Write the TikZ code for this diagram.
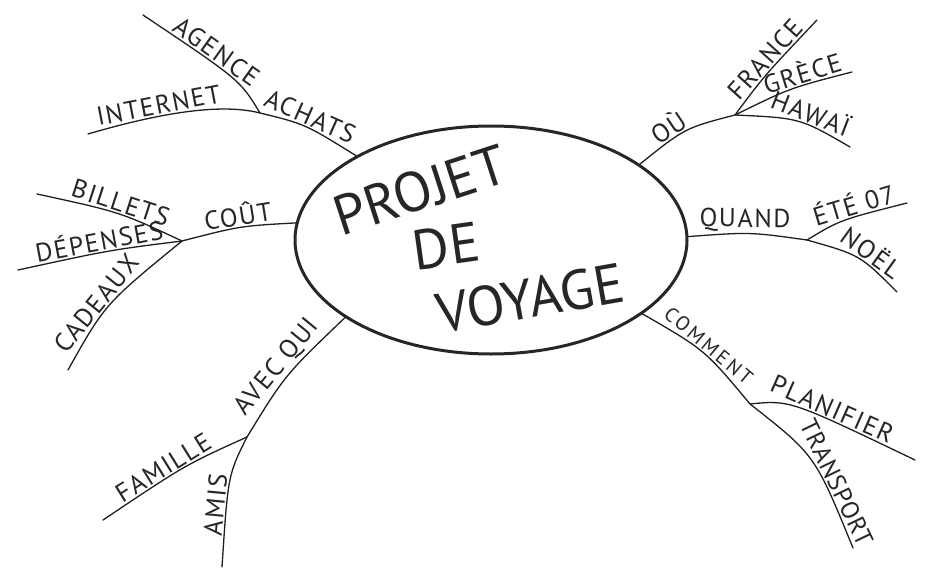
\documentclass[tikz,border=0pt]{standalone}
\usepackage{fontspec}
\setmainfont{PT Sans}
\usetikzlibrary{shapes.geometric}

\begin{document}
\begin{tikzpicture}[x=1pt, y=-1pt,
  branch/.style={line width=1.3pt, line cap=round, draw=black!88},
  word/.style={inner sep=1pt, text=black!85, sloped, above, font=\fontsize{26}{26}\selectfont\addfontfeature{LetterSpace=6}},
  small/.style={word, font=\fontsize{20}{20}\selectfont\addfontfeature{LetterSpace=14}},
  big/.style={inner sep=1pt, text=black!85, font=\fontsize{56}{56}\selectfont}
]
  \useasboundingbox (0,0) rectangle (936,567);

  % centre
  \node[ellipse, draw=black!85, line width=3pt, minimum width=392pt, minimum height=228pt] (projet) at (491,240) {};
  \node[big, rotate=18] (mot1) at (420,190) {PROJET};
  \node[big, rotate=8] (mot2) at (446,246) {DE};
  \node[big, rotate=10] (mot3) at (530,298) {VOYAGE};

  % fourches
  \coordinate (fAchats) at (260,113);
  \coordinate (fCout) at (182,241);
  \coordinate (fAvec) at (247,437);
  \coordinate (fOu) at (735,115);
  \coordinate (fQuand) at (807,240);
  \coordinate (fComment) at (750,404);

  % gauche
  \draw[branch] (projet.148) .. controls (305,124) .. node[word, pos=.5] (achats) {ACHATS} (fAchats);
  \draw[branch] (fAchats) .. controls (240,80) .. node[word, pos=.68] (agence) {AGENCE} (143,15);
  \draw[branch] (fAchats) .. controls (225,104) and (170,110) .. node[word, pos=.67] (internet) {INTERNET} (88,134);
  \draw[branch] (projet.175) .. controls (240,226) .. node[word, pos=.5] (cout) {COÛT} (fCout);
  \draw[branch] (fCout) .. controls (120,212) .. node[word, pos=.5] (billets) {BILLETS} (37,194);
  \draw[branch] (fCout) .. controls (110,250) .. node[word, pos=.55] (depenses) {DÉPENSES} (18,270);
  \draw[branch] (fCout) .. controls (105,304) .. node[word, pos=.56] (cadeaux) {CADEAUX} (68,370);
  \draw[branch] (projet.208) .. controls (285,375) .. node[word, pos=.5] (avec) {AVEC QUI} (fAvec);
  \draw[branch] (fAvec) .. controls (185,465) .. node[word, pos=.62] (famille) {FAMILLE} (103,520);
  \draw[branch] (fAvec) .. controls (228,475) .. node[word, pos=.7] (amis) {AMIS} (222,567);

  % droite
  \draw[branch] (projet.27) .. controls (685,128) .. node[word, pos=.35] (ou) {OÙ} (fOu);
  \draw[branch] (fOu) .. controls (764,76) .. node[word, pos=.6] (france) {FRANCE} (817,20);
  \draw[branch] (fOu) .. controls (790,88) .. node[word, pos=.66] (grece) {GRÈCE} (852,72);
  \draw[branch] (fOu) .. controls (800,118) .. node[word, pos=.6] (hawai) {HAWAÏ} (850,147);
  \draw[branch] (projet.1) .. controls (750,232) .. node[word, pos=.45] (quand) {QUAND} (fQuand);
  \draw[branch] (fQuand) .. controls (840,220) .. node[word, pos=.65] (ete) {ÉTÉ 07} (907,203);
  \draw[branch] (fQuand) .. controls (860,255) .. node[word, pos=.6] (noel) {NOËL} (897,292);
  \draw[branch] (projet.334) .. controls (705,350) .. node[small, pos=.5] (comment) {COMMENT} (fComment);
  \draw[branch] (fComment) .. controls (790,400) .. node[word, pos=.68] (planifier) {PLANIFIER} (915,460);
  \draw[branch] (fComment) .. controls (815,455) .. node[word, pos=.71, font=\fontsize{25}{25}\selectfont\addfontfeature{LetterSpace=3}] (transport) {TRANSPORT} (853,548);
\end{tikzpicture}
\end{document}
